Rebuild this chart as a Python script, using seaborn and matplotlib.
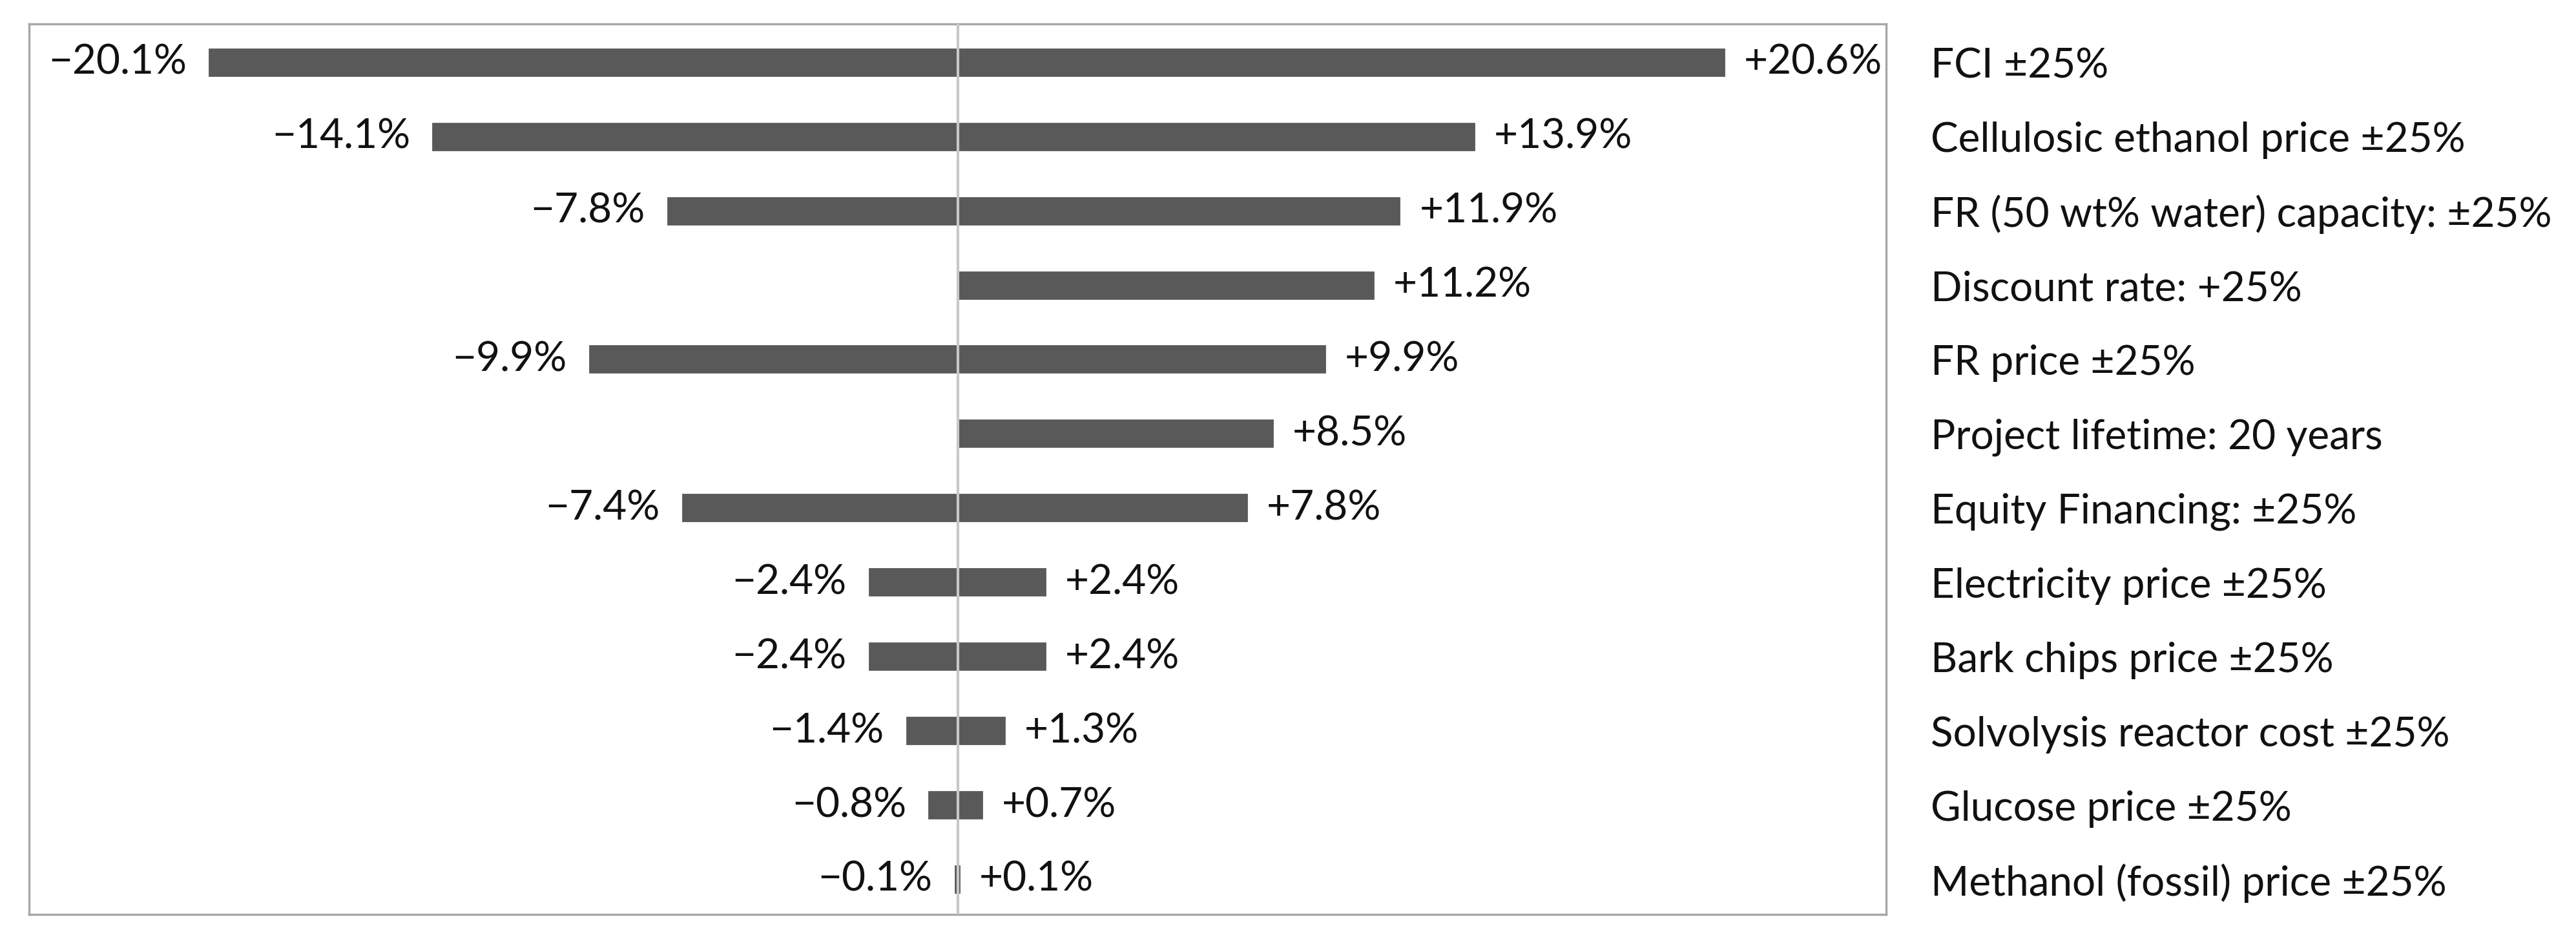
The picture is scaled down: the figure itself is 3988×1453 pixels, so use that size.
import matplotlib
matplotlib.use("Agg")
import matplotlib.pyplot as plt
import seaborn as sns
import numpy as np
import pandas as pd

categories = [
    "FCI \u00b125%",
    "Cellulosic ethanol price \u00b125%",
    "FR (50 wt% water) capacity: \u00b125%",
    "Discount rate: +25%",
    "FR price \u00b125%",
    "Project lifetime: 20 years",
    "Equity Financing: \u00b125%",
    "Electricity price \u00b125%",
    "Bark chips price \u00b125%",
    "Solvolysis reactor cost \u00b125%",
    "Glucose price \u00b125%",
    "Methanol (fossil) price \u00b125%",
]
neg_values = [-20.1, -14.1, -7.8, np.nan, -9.9, np.nan, -7.4, -2.4, -2.4, -1.4, -0.8, -0.1]
pos_values = [20.6, 13.9, 11.9, 11.2, 9.9, 8.5, 7.8, 2.4, 2.4, 1.3, 0.7, 0.1]

sns.set_theme(style="white")
plt.rcParams['font.family'] = ['Lato', 'DejaVu Sans']

FS = 23
bar_color = "#595959"
txt_color = "#111111"

fig = plt.figure(figsize=(19.94, 7.265), dpi=200)
ax = fig.add_axes([45/3988, 1 - 1415/1453, (2920-45)/3988, (1415-37)/1453])

df = pd.DataFrame({"cat": categories, "neg": neg_values, "pos": pos_values})
sns.barplot(data=df, x="neg", y="cat", orient="h", color=bar_color, width=0.4,
            saturation=1, edgecolor="white", linewidth=0.8, ax=ax)
sns.barplot(data=df, x="pos", y="cat", orient="h", color=bar_color, width=0.4,
            saturation=1, edgecolor="white", linewidth=0.8, ax=ax)

ax.axvline(0, color="#c8c8c8", lw=1.5, zorder=5)
ax.set_xlim(-24.9, 24.9)
ax.set_ylim(11.47, -0.52)

for i, (n, p) in enumerate(zip(neg_values, pos_values)):
    if not np.isnan(n):
        ax.annotate(f"\u2212{abs(n):.1f}%", xy=(n, i), xytext=(-12, 0), textcoords="offset points",
                    ha="right", va="center", fontsize=FS, color=txt_color)
    ax.annotate(f"+{p:.1f}%", xy=(p, i), xytext=(10, 0), textcoords="offset points",
                ha="left", va="center", fontsize=FS, color=txt_color)

ax.set_xlabel("")
ax.set_ylabel("")
ax.set_xticks([])
ax.yaxis.tick_right()
ax.tick_params(axis="y", length=0, pad=25, labelsize=FS, labelcolor=txt_color)
for s in ax.spines.values():
    s.set_color("#a6a6a6")
    s.set_linewidth(1.2)

fig.savefig("out.png", dpi=200, facecolor="white")
